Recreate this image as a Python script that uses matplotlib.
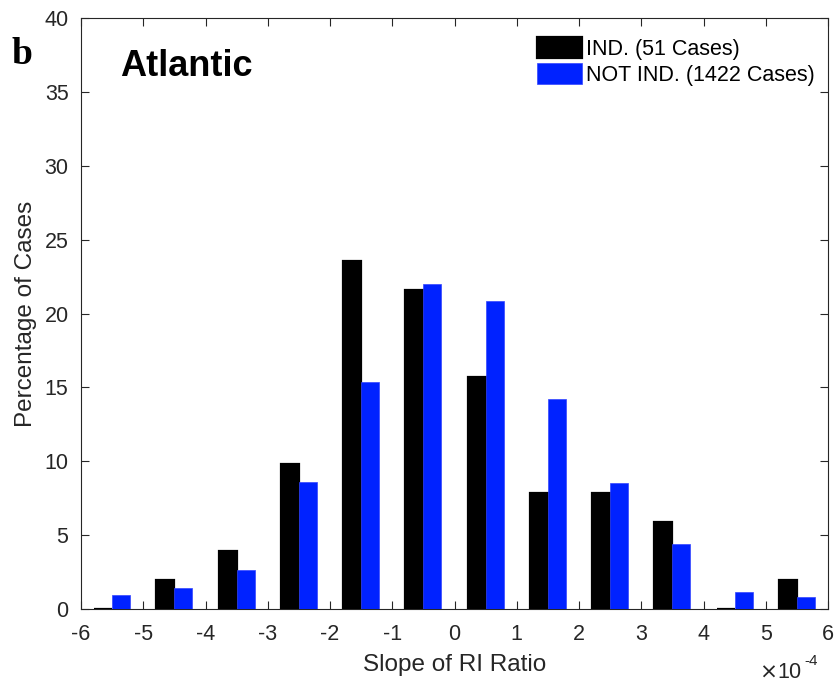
import numpy as np
import matplotlib
matplotlib.use("Agg")
import matplotlib.pyplot as plt

plt.rcParams['font.family'] = ['Liberation Sans', 'DejaVu Sans']

# bin centres (x 1e-4) and percentages
bin_centers = [-5.5, -4.5, -3.5, -2.5, -1.5, -0.5, 0.5, 1.5, 2.5, 3.5, 4.5, 5.5]
ind_pct = [0.0, 1.96, 3.92, 9.80, 23.53, 21.57, 15.69, 7.84, 7.84, 5.88, 0.0, 1.96]
not_ind_pct = [0.95, 1.4, 2.65, 8.6, 15.35, 22.0, 20.85, 14.2, 8.5, 4.4, 1.15, 0.8]
x_ticks = np.arange(-6, 7, 1)
y_ticks = np.arange(0, 45, 5)

fig = plt.figure(figsize=(8.4, 6.84), dpi=100)
ax = fig.add_axes([81/840, 1-609/684, (828-81)/840, (609-18)/684])

x = np.array(bin_centers)
w = 0.29
ax.bar(x - w/2, ind_pct, width=w, color='black', edgecolor='black', linewidth=1.6,
       label='IND. (51 Cases)', zorder=3)
ax.bar(x + w/2, not_ind_pct, width=w, color='#0022ff', edgecolor='#3344ff', linewidth=0.5,
       label='NOT IND. (1422 Cases)', zorder=3)

ax.set_xlim(-6, 6)
ax.set_ylim(0, 40)
ax.set_xticks(x_ticks)
ax.set_xticklabels([str(int(t)) for t in x_ticks])
ax.set_yticks(y_ticks)
gray = '#262626'
ax.tick_params(direction='in', top=True, right=True, length=6, width=0.8,
               colors=gray, labelsize=15.5, labelcolor=gray)
ax.tick_params(axis='x', pad=11)
ax.tick_params(axis='y', pad=9)
for s in ax.spines.values():
    s.set_color(gray)
    s.set_linewidth(0.8)

ax.set_xlabel('Slope of RI Ratio', fontsize=17.5, color=gray, labelpad=6)
ax.set_ylabel('Percentage of Cases', fontsize=17.5, color=gray, labelpad=5)

fig.text(802/840, 1-673/684, r'$\times$10', fontsize=15.5, color=gray, ha='right', va='center')
fig.text(804/840, 1-661/684, '-4', fontsize=11, color=gray, ha='left', va='center')

fig.text(120/840, 1-66/684, 'Atlantic', fontsize=26, fontweight='bold',
         va='center', ha='left')
fig.text(12/840, 1-55/684, 'b', family=['Liberation Serif'], fontsize=27, fontweight='bold',
         va='center', ha='left')

leg = ax.legend(loc='upper right', bbox_to_anchor=(1.008, 1.0), frameon=False, fontsize=15.5,
                handlelength=2.05, handleheight=1.1, handletextpad=0.2, labelspacing=0.15)

fig.savefig('out.png', dpi=100)
